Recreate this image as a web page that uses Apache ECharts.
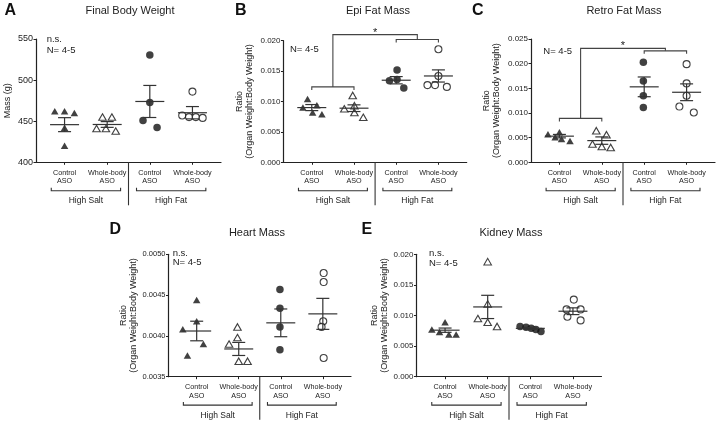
<!DOCTYPE html>
<html>
<head>
<meta charset="utf-8">
<title>Organ mass panels</title>
<script src="https://cdn.jsdelivr.net/npm/echarts@6/dist/echarts.min.js"></script>
<style>
    html, body { margin: 0; padding: 0; background: #fff; }
    #chart { width: 716px; height: 421px; }
</style>
</head>
<body>
<div id="chart"></div>
<script>
    var groupLabels = ['Control\nASO', 'Whole-body\nASO', 'Control\nASO', 'Whole-body\nASO'];
    var dietLabels = ['High Salt', 'High Fat'];
    var groupPos = [1, 2, 3, 4];

    // A - final body weight (g)
    var aPts = [[462, 462, 460, 442, 420], [455, 455, 441, 441, 438], [530.5, 472.6, 450.7, 442.2], [486, 457, 455, 455, 454]];
    var aJit = [[-0.23, 0, 0.23, 0, 0], [-0.11, 0.11, -0.25, -0.03, 0.2], [0, 0, -0.16, 0.17], [0, -0.24, -0.08, 0.08, 0.24]];
    var aMean = [445.8, 446, 474, 460.3];
    var aSem = [8.5, 3.5, 19.5, 7.5];
    var aTicks = [400, 450, 500, 550];

    // B - epi fat mass ratio
    var bPts = [[0.0104, 0.0090, 0.0094, 0.0082, 0.0079], [0.0110, 0.0093, 0.0088, 0.0082, 0.0074], [0.0152, 0.0134, 0.0136, 0.0122], [0.0186, 0.0142, 0.0127, 0.0127, 0.0124]];
    var bJit = [[-0.1, -0.21, 0.12, 0.02, 0.24], [-0.03, 0.01, -0.23, 0.01, 0.22], [0.02, -0.16, 0.02, 0.18], [0, 0, -0.26, -0.08, 0.2]];
    var bMean = [0.0090, 0.0089, 0.0135, 0.0142];
    var bSem = [0.0005, 0.00055, 0.0006, 0.0010];
    var bTicks = [0, 0.005, 0.010, 0.015, 0.020];
    var bSig = [0.0124, 0.0202, 0.0210];

    // C - retro fat mass ratio
    var cPts = [[0.0057, 0.0061, 0.0051, 0.0047, 0.0043], [0.0064, 0.0056, 0.0037, 0.0032, 0.0030], [0.0203, 0.0165, 0.0135, 0.0111], [0.0199, 0.0160, 0.0135, 0.0113, 0.0101]];
    var cJit = [[-0.27, 0, -0.1, 0.05, 0.25], [-0.13, 0.11, -0.22, 0, 0.21], [-0.02, -0.02, -0.02, -0.02], [0, 0, 0, -0.17, 0.17]];
    var cMean = [0.0053, 0.0044, 0.0153, 0.0142];
    var cSem = [0.00035, 0.00075, 0.0020, 0.0017];
    var cTicks = [0, 0.005, 0.010, 0.015, 0.020, 0.025];
    var cSig = [0.0089, 0.0226, 0.0231];

    // D - heart mass ratio
    var dPts = [[0.00444, 0.00418, 0.00408, 0.00390, 0.00376], [0.00411, 0.00398, 0.00390, 0.00369, 0.00369], [0.00457, 0.00434, 0.00411, 0.00383], [0.00477, 0.00466, 0.00418, 0.00411, 0.00373]];
    var dJit = [[0, 0, -0.33, 0.16, -0.22], [-0.03, -0.03, -0.23, 0, 0.21], [-0.02, -0.02, -0.02, -0.02], [0.02, 0.02, 0.01, -0.03, 0.02]];
    var dMean = [0.00406, 0.00384, 0.00416, 0.00427];
    var dSem = [0.00012, 0.00008, 0.00017, 0.00019];
    var dTicks = [0.0035, 0.0040, 0.0045, 0.0050];

    // E - kidney mass ratio
    var ePts = [[0.0089, 0.0077, 0.0073, 0.0069, 0.0069], [0.0188, 0.0119, 0.0095, 0.0089, 0.0082], [0.0082, 0.0081, 0.0079, 0.0077, 0.0074], [0.0126, 0.0110, 0.0110, 0.0098, 0.0092]];
    var eJit = [[0, -0.31, -0.13, 0.09, 0.26], [0, 0, -0.23, 0, 0.22], [-0.24, -0.1, 0.02, 0.13, 0.25], [0.02, -0.15, 0.18, -0.13, 0.18]];
    var eMean = [0.0076, 0.0114, 0.0079, 0.0107];
    var eSem = [0.00035, 0.0019, 0.00016, 0.00055];
    var eTicks = [0, 0.005, 0.010, 0.015, 0.020];

    var ratioName = 'Ratio\n(Organ Weight:Body Weight)';
    var FONT = '"Liberation Sans", Arial, Helvetica, sans-serif';
    var INK = '#222';

    var panels = [
        {pts: aPts, jit: aJit, mean: aMean, sem: aSem, ticks: aTicks, dec: 0, tickFont: 9,
         rect: [36, 39, 185, 123.3], letter: 'A', letterPos: [4.5, 11], title: 'Final Body Weight', titlePos: [130, 11],
         yName: 'Mass (g)', nameGap: 23.5, notes: ['n.s.', 'N= 4-5'], notePos: [46.7, 39.5, 50]},
        {pts: bPts, jit: bJit, mean: bMean, sem: bSem, ticks: bTicks, dec: 3, tickFont: 8, sig: bSig,
         rect: [283.5, 40.7, 183.2, 121.6], letter: 'B', letterPos: [235, 11], title: 'Epi Fat Mass', titlePos: [378, 11],
         yName: ratioName, nameGap: 28.5, notes: ['N= 4-5'], notePos: [290, 49]},
        {pts: cPts, jit: cJit, mean: cMean, sem: cSem, ticks: cTicks, dec: 3, tickFont: 8, sig: cSig,
         rect: [531, 39, 184, 123.3], letter: 'C', letterPos: [472, 11], title: 'Retro Fat Mass', titlePos: [624, 11],
         yName: ratioName, nameGap: 29, notes: ['N= 4-5'], notePos: [543.3, 51]},
        {pts: dPts, jit: dJit, mean: dMean, sem: dSem, ticks: dTicks, dec: 4, tickFont: 7.5,
         rect: [168.5, 254.3, 182.5, 122.4], letter: 'D', letterPos: [109.5, 230], title: 'Heart Mass', titlePos: [257, 233],
         yName: ratioName, nameGap: 27.5, notes: ['n.s.', 'N= 4-5'], notePos: [172.7, 253.3, 262.7]},
        {pts: ePts, jit: eJit, mean: eMean, sem: eSem, ticks: eTicks, dec: 3, tickFont: 8,
         rect: [416.5, 254.3, 185, 122.4], letter: 'E', letterPos: [361.5, 230], title: 'Kidney Mass', titlePos: [511, 233],
         yName: ratioName, nameGap: 27, notes: ['n.s.', 'N= 4-5'], notePos: [429, 253.3, 263]}
    ];

    function meanSemItem(params, api) {
        var x = api.value(0), m = api.value(1), s = api.value(2);
        var c = api.coord([x, m]), hi = api.coord([x, m + s]), lo = api.coord([x, m - s]);
        var st = {stroke: '#333', lineWidth: 1.2};
        return {type: 'group', children: [
            {type: 'line', shape: {x1: c[0] - 14.5, y1: c[1], x2: c[0] + 14.5, y2: c[1]}, style: st},
            {type: 'line', shape: {x1: c[0], y1: hi[1], x2: c[0], y2: lo[1]}, style: st},
            {type: 'line', shape: {x1: c[0] - 6.5, y1: hi[1], x2: c[0] + 6.5, y2: hi[1]}, style: st},
            {type: 'line', shape: {x1: c[0] - 6.5, y1: lo[1], x2: c[0] + 6.5, y2: lo[1]}, style: st}
        ]};
    }

    // separator + diet brackets under the x axis
    function decorItem(params, api) {
        var ymin = api.value(1);
        var base = api.coord([2.5, ymin]);
        var y0 = base[1];
        var c = groupPos.map(function (p) { return api.coord([p, ymin])[0]; });
        var st = {stroke: '#333', lineWidth: 1.1, fill: null};
        var kids = [{type: 'line', shape: {x1: base[0], y1: y0, x2: base[0], y2: y0 + 43}, style: st}];
        for (var d = 0; d < 2; d++) {
            var xl = c[2 * d] - 13.3, xr = c[2 * d + 1] + 13.4, yb = y0 + 28.4;
            kids.push({type: 'polyline', shape: {points: [[xl, yb - 3], [xl, yb], [xr, yb], [xr, yb - 3]]}, style: st});
            kids.push({type: 'text', style: {
                text: dietLabels[d], x: (c[2 * d] + c[2 * d + 1]) / 2, y: y0 + 38.7,
                textAlign: 'center', textVerticalAlign: 'middle', align: 'center', verticalAlign: 'middle',
                fontSize: 8.5, fontFamily: FONT, fill: INK}});
        }
        return {type: 'group', children: kids};
    }

    // significance brackets (HS vs HF)
    function sigItem(levels) {
        return function (params, api) {
            var lo = levels[0], hi = levels[1], top = levels[2];
            var a1 = api.coord([1, lo]), a2 = api.coord([2, lo]);
            var b1 = api.coord([3, hi]), b2 = api.coord([4, hi]);
            var am = api.coord([1.5, lo]), bm = api.coord([3.5, hi]);
            var t1 = api.coord([1.5, top]), t2 = api.coord([3.5, top]);
            var star = api.coord([2.5, top]);
            var st = {stroke: '#444', lineWidth: 1.1, fill: null};
            return {type: 'group', children: [
                {type: 'polyline', shape: {points: [[a1[0], a1[1] + 3], a1, a2, [a2[0], a2[1] + 3]]}, style: st},
                {type: 'polyline', shape: {points: [[b1[0], b1[1] + 3], b1, b2, [b2[0], b2[1] + 3]]}, style: st},
                {type: 'polyline', shape: {points: [am, t1, t2, bm]}, style: st},
                {type: 'text', style: {text: '*', x: star[0], y: star[1] - 2,
                    textAlign: 'center', textVerticalAlign: 'middle', align: 'center', verticalAlign: 'middle',
                    fontSize: 11, fontFamily: FONT, fill: INK}}
            ]};
        };
    }

    var grids = [], xAxes = [], yAxes = [], series = [], graphics = [];

    panels.forEach(function (pn, i) {
        grids.push({left: pn.rect[0], top: pn.rect[1], width: pn.rect[2], height: pn.rect[3],
            containLabel: false, outerBoundsMode: 'none'});

        xAxes.push({
            type: 'value', gridIndex: i, min: 0.33, max: 4.67,
            axisLine: {show: true, onZero: false, lineStyle: {color: INK, width: 1.2}},
            axisTick: {show: true, customValues: groupPos, length: 2.5, lineStyle: {color: INK}},
            axisLabel: {customValues: groupPos, margin: 6, fontSize: 7.2, lineHeight: 8.7, color: INK, fontFamily: FONT,
                formatter: function (v) { return groupLabels[Math.round(v) - 1] || ''; }},
            splitLine: {show: false}
        });

        var t = pn.ticks;
        yAxes.push({
            type: 'value', gridIndex: i, min: t[0], max: t[t.length - 1], interval: t[1] - t[0],
            axisLine: {show: true, onZero: false, lineStyle: {color: INK, width: 1.2}},
            axisTick: {show: true, length: 2.5, lineStyle: {color: INK}},
            axisLabel: {margin: 3, fontSize: pn.tickFont, color: INK, fontFamily: FONT,
                formatter: (function (dec) { return function (v) { return v.toFixed(dec); }; })(pn.dec)},
            splitLine: {show: false},
            name: pn.yName, nameLocation: 'middle', nameGap: pn.nameGap, nameRotate: 90,
            nameTextStyle: {fontSize: 9, lineHeight: 10, color: INK, fontFamily: FONT}
        });

        // points
        pn.pts.forEach(function (vals, k) {
            var tri = k < 2, filled = k % 2 === 0;
            series.push({
                type: 'scatter', xAxisIndex: i, yAxisIndex: i, silent: true, z: 2,
                symbol: tri ? 'triangle' : 'circle',
                symbolSize: tri ? [7.5, 6.5] : (filled ? 7.5 : 7),
                itemStyle: filled ? {color: '#111'} : {color: '#fff', borderColor: '#111', borderWidth: 1.1},
                data: vals.map(function (v, j) { return [groupPos[k] + pn.jit[k][j], v]; })
            });
        });

        // mean +/- SEM
        series.push({
            type: 'custom', xAxisIndex: i, yAxisIndex: i, silent: true, z: 3, clip: false,
            renderItem: meanSemItem,
            encode: {x: 0, y: 1},
            data: groupPos.map(function (p, k) { return [p, pn.mean[k], pn.sem[k]]; })
        });

        series.push({
            type: 'custom', xAxisIndex: i, yAxisIndex: i, silent: true, z: 1, clip: false,
            renderItem: decorItem, encode: {x: 0, y: 1}, data: [[2.5, t[0]]]
        });

        if (pn.sig) {
            series.push({
                type: 'custom', xAxisIndex: i, yAxisIndex: i, silent: true, z: 1, clip: false,
                renderItem: sigItem(pn.sig), encode: {x: 0, y: 1}, data: [[2.5, pn.sig[2]]]
            });
        }

        graphics.push({type: 'text', x: pn.letterPos[0], y: pn.letterPos[1],
            style: {text: pn.letter, fontSize: 16, fontWeight: 'bold', fontFamily: FONT, fill: '#111',
                textAlign: 'left', textVerticalAlign: 'middle'}});
        graphics.push({type: 'text', x: pn.titlePos[0], y: pn.titlePos[1],
            style: {text: pn.title, fontSize: 11, fontFamily: FONT, fill: INK,
                textAlign: 'center', textVerticalAlign: 'middle'}});
        pn.notes.forEach(function (txt, n) {
            graphics.push({type: 'text', x: pn.notePos[0], y: pn.notePos[n + 1],
                style: {text: txt, fontSize: 9.5, fontFamily: FONT, fill: INK,
                    textAlign: 'left', textVerticalAlign: 'middle'}});
        });
    });

    var chart = echarts.init(document.getElementById('chart'), null, {renderer: 'canvas'});
    chart.setOption({
        animation: false,
        backgroundColor: '#fff',
        textStyle: {fontFamily: FONT},
        grid: grids,
        xAxis: xAxes,
        yAxis: yAxes,
        series: series,
        graphic: graphics
    });
</script>
</body>
</html>
